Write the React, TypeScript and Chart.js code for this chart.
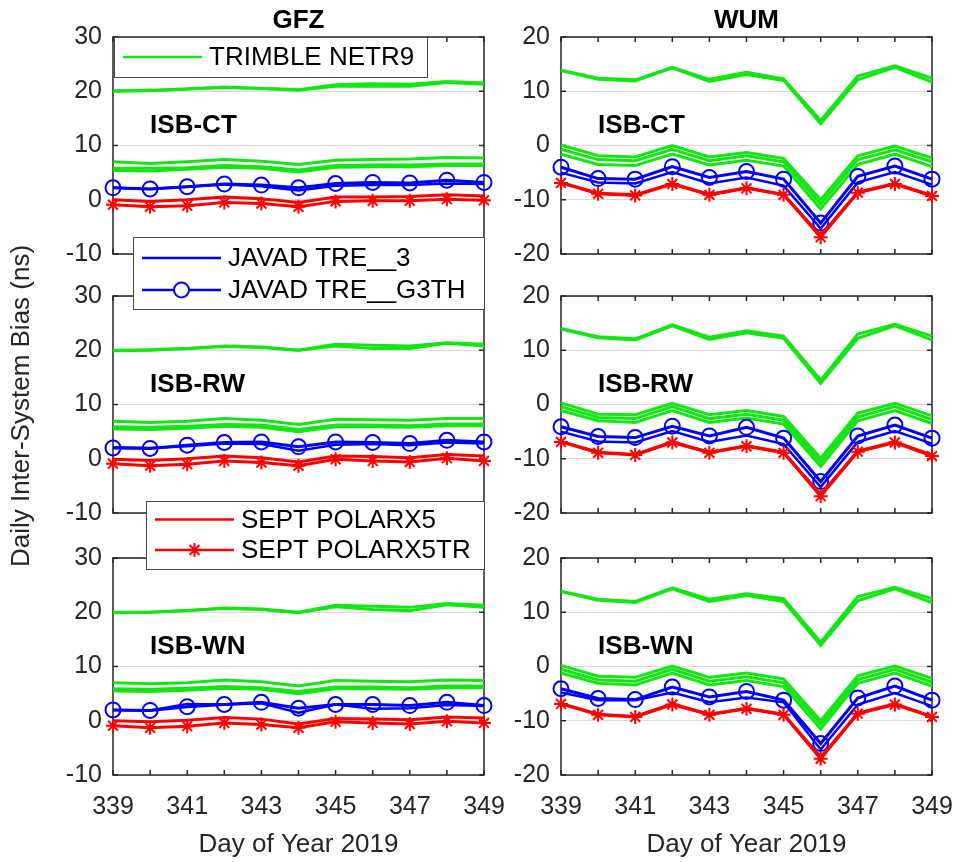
import React, { useEffect, useRef } from 'react';
import { Chart, registerables } from 'chart.js';
Chart.register(...registerables);

// ---------------- DATA ----------------
const days = [339, 340, 341, 342, 343, 344, 345, 346, 347, 348, 349];
const xTickLabels = ['339', '341', '343', '345', '347', '349'];
const gfzYTicks = [-10, 0, 10, 20, 30];
const wumYTicks = [-20, -10, 0, 10, 20];

// GFZ ISB-CT
const gfzCtTrimble = [
  [20.1, 20.2, 20.4, 20.8, 20.5, 20.3, 21.2, 21.4, 21.3, 21.8, 21.5],
  [20.0, 20.1, 20.4, 20.7, 20.5, 20.2, 20.9, 20.9, 20.9, 21.6, 21.3],
  [7.0, 6.7, 7.0, 7.4, 7.1, 6.5, 7.3, 7.4, 7.5, 7.8, 7.7],
  [5.8, 5.8, 5.9, 6.3, 6.1, 5.5, 6.3, 6.4, 6.4, 6.6, 6.6],
  [5.4, 5.3, 5.6, 6.0, 5.8, 5.1, 6.0, 6.1, 6.1, 6.3, 6.3],
];
const gfzCtJavad3 = [2.2, 2.0, 2.4, 2.8, 2.5, 1.7, 2.6, 2.7, 2.7, 3.0, 2.9];
const gfzCtJavadG3th = [2.2, 2.0, 2.4, 2.9, 2.7, 2.2, 3.0, 3.2, 3.1, 3.6, 3.2];
const gfzCtSept5 = [0.0, -0.3, 0.0, 0.5, 0.2, -0.5, 0.5, 0.5, 0.6, 0.9, 0.7];
const gfzCtSept5tr = [-0.9, -1.3, -1.1, -0.5, -0.7, -1.3, -0.3, -0.2, -0.2, 0.1, -0.1];

// GFZ ISB-RW
const gfzRwTrimble = [
  [20.0, 20.1, 20.3, 20.8, 20.6, 20.0, 21.1, 20.9, 20.8, 21.4, 21.1],
  [19.9, 20.0, 20.3, 20.7, 20.5, 20.0, 20.8, 20.3, 20.3, 21.3, 20.8],
  [6.9, 6.7, 6.9, 7.4, 7.1, 6.3, 7.3, 7.2, 7.1, 7.4, 7.4],
  [5.9, 5.8, 6.0, 6.3, 6.2, 5.4, 6.2, 6.2, 6.1, 6.4, 6.4],
  [5.5, 5.4, 5.6, 6.0, 5.8, 5.0, 5.9, 5.9, 5.8, 6.1, 6.1],
];
const gfzRwJavad3 = [2.1, 2.0, 2.3, 2.8, 2.7, 1.5, 2.6, 2.7, 2.5, 3.0, 2.8];
const gfzRwJavadG3th = [2.0, 1.9, 2.5, 3.0, 3.1, 2.2, 3.1, 3.0, 2.8, 3.4, 3.1];
const gfzRwSept5 = [-0.1, -0.3, 0.0, 0.5, 0.2, -0.6, 0.5, 0.4, 0.2, 0.8, 0.5];
const gfzRwSept5tr = [-0.9, -1.3, -1.0, -0.4, -0.7, -1.3, -0.1, -0.4, -0.6, 0.1, -0.4];

// GFZ ISB-WN
const gfzWnTrimble = [
  [20.0, 20.0, 20.3, 20.8, 20.6, 20.0, 21.3, 21.1, 20.9, 21.6, 21.3],
  [19.9, 20.0, 20.3, 20.7, 20.5, 19.9, 21.0, 20.5, 20.3, 21.4, 20.9],
  [7.0, 6.8, 7.0, 7.5, 7.2, 6.4, 7.4, 7.3, 7.2, 7.5, 7.4],
  [5.9, 5.8, 6.0, 6.3, 6.1, 5.4, 6.2, 6.2, 6.1, 6.4, 6.4],
  [5.5, 5.4, 5.6, 6.0, 5.8, 5.0, 5.9, 5.9, 5.8, 6.1, 6.1],
];
const gfzWnJavad3 = [2.0, 1.9, 3.1, 3.0, 3.2, 1.5, 3.0, 2.2, 2.3, 2.9, 2.7];
const gfzWnJavadG3th = [2.0, 1.9, 2.6, 3.0, 3.4, 2.3, 3.0, 3.0, 2.8, 3.4, 2.8];
const gfzWnSept5 = [0.0, -0.2, 0.1, 0.6, 0.3, -0.6, 0.4, 0.3, 0.2, 0.7, 0.5];
const gfzWnSept5tr = [-0.9, -1.3, -1.0, -0.4, -0.7, -1.3, -0.2, -0.4, -0.6, -0.1, -0.4];

// WUM ISB-CT
const wumCtTrimble = [
  [13.9, 12.4, 12.1, 14.4, 12.2, 13.5, 12.3, 4.6, 12.8, 14.7, 12.4],
  [13.8, 12.2, 11.9, 14.3, 11.8, 13.1, 12.0, 4.0, 12.1, 14.4, 11.7],
  [0.1, -1.9, -2.1, 0.0, -2.1, -1.3, -2.4, -10.0, -1.9, -0.1, -2.3],
  [-0.7, -2.6, -2.8, -0.7, -2.8, -1.9, -3.0, -10.8, -2.6, -0.8, -3.0],
  [-1.6, -3.5, -3.7, -1.6, -3.6, -2.7, -3.8, -11.7, -3.5, -1.6, -3.9],
];
const wumCtJavad3 = [-5.0, -6.8, -7.0, -4.9, -7.0, -5.9, -7.4, -15.3, -6.8, -4.9, -7.2];
const wumCtJavadG3th = [-4.0, -6.1, -6.2, -3.9, -5.9, -4.8, -6.2, -14.3, -5.7, -3.8, -6.2];
const wumCtSept5 = [-6.8, -8.8, -9.1, -7.0, -9.0, -7.8, -9.0, -16.6, -8.6, -7.0, -9.2];
const wumCtSept5tr = [-6.9, -8.9, -9.2, -7.1, -9.1, -7.9, -9.1, -16.9, -8.7, -7.1, -9.3];

// WUM ISB-RW
const wumRwTrimble = [
  [14.0, 12.5, 12.1, 14.7, 12.4, 13.6, 12.6, 4.5, 13.0, 14.8, 12.6],
  [13.9, 12.3, 11.9, 14.5, 12.0, 13.2, 12.2, 3.9, 12.2, 14.5, 11.9],
  [0.3, -1.8, -1.9, 0.2, -1.9, -1.1, -2.2, -9.9, -1.6, 0.2, -2.1],
  [-0.4, -2.4, -2.6, -0.4, -2.6, -1.8, -2.9, -10.6, -2.3, -0.4, -2.8],
  [-1.1, -3.0, -3.3, -1.1, -3.3, -2.5, -3.6, -11.4, -3.0, -1.1, -3.5],
];
const wumRwJavad3 = [-5.0, -6.8, -7.0, -4.9, -6.9, -5.7, -7.3, -15.2, -6.9, -4.9, -7.2];
const wumRwJavadG3th = [-4.1, -5.9, -6.1, -4.0, -5.8, -4.2, -6.2, -14.2, -5.8, -3.8, -6.2];
const wumRwSept5 = [-6.8, -8.8, -9.2, -6.9, -8.8, -7.6, -8.8, -16.6, -8.6, -6.9, -9.3];
const wumRwSept5tr = [-6.9, -8.9, -9.3, -7.0, -8.9, -7.7, -8.9, -16.9, -8.7, -7.0, -9.5];

// WUM ISB-WN
const wumWnTrimble = [
  [13.9, 12.4, 12.0, 14.5, 12.4, 13.4, 12.5, 4.5, 12.9, 14.6, 12.5],
  [13.8, 12.2, 11.8, 14.3, 12.0, 13.1, 12.0, 3.9, 12.1, 14.3, 11.8],
  [0.2, -1.8, -2.0, 0.1, -2.0, -1.2, -2.3, -10.0, -1.7, 0.1, -2.2],
  [-0.5, -2.5, -2.7, -0.5, -2.7, -1.9, -3.0, -10.7, -2.4, -0.5, -2.9],
  [-1.2, -3.1, -3.4, -1.2, -3.4, -2.6, -3.7, -11.5, -3.1, -1.2, -3.6],
];
const wumWnJavad3 = [-4.8, -6.2, -6.2, -4.8, -6.6, -5.7, -6.6, -15.3, -7.0, -4.9, -7.3];
const wumWnJavadG3th = [-4.1, -5.9, -6.1, -3.8, -5.6, -4.6, -6.2, -14.2, -5.8, -3.6, -6.2];
const wumWnSept5 = [-6.8, -8.8, -9.2, -6.9, -8.8, -7.7, -8.8, -16.7, -8.6, -6.9, -9.2];
const wumWnSept5tr = [-6.9, -8.9, -9.3, -7.0, -8.9, -7.8, -8.9, -17.0, -8.7, -7.0, -9.3];

const legendTrimble = ['TRIMBLE NETR9'];
const legendJavad = ['JAVAD TRE__3', 'JAVAD TRE__G3TH'];
const legendSept = ['SEPT POLARX5', 'SEPT POLARX5TR'];

// ---------------- STYLE ----------------
const FONT = "'Liberation Sans', Arial, Helvetica, sans-serif";
const AXIS = '#262626';
const GREEN = '#14e614';
const BLUE = '#0000ff';
const RED = '#ff0000';
const W = 954;
const H = 862;

type Entry = { label: string; color: string; marker: 'none' | 'circle' | 'star' };
type Legend = { x: number; y: number; w: number; h: number; rows: number[]; entries: Entry[] };
type Panel = {
  trimble: number[][];
  javad3: number[];
  javadG3th: number[];
  sept5: number[];
  sept5tr: number[];
  yTicks: number[];
  label: string;
  labelY: number;
  area: { left: number; top: number; right: number; bottom: number };
  showX: boolean;
  title?: string;
  legend?: Legend;
  yTitle?: boolean;
};

const leftCol = { left: 113, right: 484 };
const rightCol = { left: 561, right: 932 };
const rows = [
  { top: 37, bottom: 254 },
  { top: 296, bottom: 513 },
  { top: 558, bottom: 775 },
];

const panels: Panel[] = [
  {
    trimble: gfzCtTrimble, javad3: gfzCtJavad3, javadG3th: gfzCtJavadG3th, sept5: gfzCtSept5, sept5tr: gfzCtSept5tr,
    yTicks: gfzYTicks, label: 'ISB-CT', labelY: 12.3, area: { ...leftCol, ...rows[0] }, showX: false, title: 'GFZ',
    legend: { x: 114, y: 37, w: 313, h: 40, rows: [20], entries: [{ label: legendTrimble[0], color: GREEN, marker: 'none' }] },
  },
  {
    trimble: gfzRwTrimble, javad3: gfzRwJavad3, javadG3th: gfzRwJavadG3th, sept5: gfzRwSept5, sept5tr: gfzRwSept5tr,
    yTicks: gfzYTicks, label: 'ISB-RW', labelY: 12.3, area: { ...leftCol, ...rows[1] }, showX: false, yTitle: true,
    legend: {
      x: 133, y: 237, w: 351, h: 72, rows: [21, 53],
      entries: [
        { label: legendJavad[0], color: BLUE, marker: 'none' },
        { label: legendJavad[1], color: BLUE, marker: 'circle' },
      ],
    },
  },
  {
    trimble: gfzWnTrimble, javad3: gfzWnJavad3, javadG3th: gfzWnJavadG3th, sept5: gfzWnSept5, sept5tr: gfzWnSept5tr,
    yTicks: gfzYTicks, label: 'ISB-WN', labelY: 12.3, area: { ...leftCol, ...rows[2] }, showX: true,
    legend: {
      x: 146, y: 501, w: 338, h: 68, rows: [18.5, 49],
      entries: [
        { label: legendSept[0], color: RED, marker: 'none' },
        { label: legendSept[1], color: RED, marker: 'star' },
      ],
    },
  },
  {
    trimble: wumCtTrimble, javad3: wumCtJavad3, javadG3th: wumCtJavadG3th, sept5: wumCtSept5, sept5tr: wumCtSept5tr,
    yTicks: wumYTicks, label: 'ISB-CT', labelY: 2.3, area: { ...rightCol, ...rows[0] }, showX: false, title: 'WUM',
  },
  {
    trimble: wumRwTrimble, javad3: wumRwJavad3, javadG3th: wumRwJavadG3th, sept5: wumRwSept5, sept5tr: wumRwSept5tr,
    yTicks: wumYTicks, label: 'ISB-RW', labelY: 2.3, area: { ...rightCol, ...rows[1] }, showX: false,
  },
  {
    trimble: wumWnTrimble, javad3: wumWnJavad3, javadG3th: wumWnJavadG3th, sept5: wumWnSept5, sept5tr: wumWnSept5tr,
    yTicks: wumYTicks, label: 'ISB-WN', labelY: 2.3, area: { ...rightCol, ...rows[2] }, showX: true,
  },
];

const pts = (arr: number[]) => days.map((d, i) => ({ x: d, y: arr[i] }));

function drawStar(ctx: CanvasRenderingContext2D, x: number, y: number, r: number) {
  ctx.beginPath();
  for (let k = 0; k < 4; k++) {
    const a = (k * Math.PI) / 4;
    ctx.moveTo(x - r * Math.cos(a), y - r * Math.sin(a));
    ctx.lineTo(x + r * Math.cos(a), y + r * Math.sin(a));
  }
  ctx.stroke();
}

function makePlugin(p: Panel) {
  return {
    id: 'panelDecor',
    beforeDatasetsDraw(chart: any) {
      const { ctx, chartArea: a, scales } = chart;
      ctx.save();
      ctx.strokeStyle = AXIS;
      ctx.lineWidth = 1.5;
      ctx.strokeRect(a.left, a.top, a.right - a.left, a.bottom - a.top);
      ctx.beginPath();
      for (const d of days) {
        const px = scales.x.getPixelForValue(d);
        ctx.moveTo(px, a.bottom);
        ctx.lineTo(px, a.bottom - 5);
        ctx.moveTo(px, a.top);
        ctx.lineTo(px, a.top + 5);
      }
      for (const t of p.yTicks) {
        const py = scales.y.getPixelForValue(t);
        ctx.moveTo(a.left, py);
        ctx.lineTo(a.left + 5, py);
        ctx.moveTo(a.right, py);
        ctx.lineTo(a.right - 5, py);
      }
      ctx.stroke();
      ctx.restore();
    },
    afterDraw(chart: any) {
      const { ctx, chartArea: a, scales } = chart;
      ctx.save();
      // panel label
      ctx.fillStyle = '#000';
      ctx.font = `bold 26px ${FONT}`;
      ctx.textAlign = 'left';
      ctx.textBaseline = 'alphabetic';
      ctx.fillText(p.label, scales.x.getPixelForValue(340), scales.y.getPixelForValue(p.labelY));
      // column title
      if (p.title) {
        ctx.textAlign = 'center';
        ctx.fillText(p.title, (a.left + a.right) / 2, a.top - 9);
      }
      // x axis title
      ctx.font = `26px ${FONT}`;
      ctx.fillStyle = AXIS;
      if (p.showX) {
        ctx.textAlign = 'center';
        ctx.textBaseline = 'middle';
        ctx.fillText('Day of Year 2019', (a.left + a.right) / 2, 845);
      }
      if (p.yTitle) {
        ctx.save();
        ctx.translate(22, 406);
        ctx.rotate(-Math.PI / 2);
        ctx.textAlign = 'center';
        ctx.textBaseline = 'middle';
        ctx.fillText('Daily Inter-System Bias (ns)', 0, 0);
        ctx.restore();
      }
      // legend
      const L = p.legend;
      if (L) {
        ctx.fillStyle = '#fff';
        ctx.fillRect(L.x, L.y, L.w, L.h);
        ctx.strokeStyle = '#4a4a4a';
        ctx.lineWidth = 1;
        ctx.strokeRect(L.x + 0.5, L.y + 0.5, L.w, L.h);
        L.entries.forEach((e, i) => {
          const yy = L.y + L.rows[i];
          ctx.strokeStyle = e.color;
          ctx.lineWidth = 2.5;
          ctx.beginPath();
          ctx.moveTo(L.x + 9, yy);
          ctx.lineTo(L.x + 88, yy);
          ctx.stroke();
          const mx = L.x + 48.5;
          ctx.lineWidth = 2;
          if (e.marker === 'circle') {
            ctx.fillStyle = '#fff';
            ctx.beginPath();
            ctx.arc(mx, yy, 7.5, 0, Math.PI * 2);
            ctx.fill();
            ctx.stroke();
          } else if (e.marker === 'star') {
            drawStar(ctx, mx, yy, 7);
          }
          ctx.fillStyle = '#000';
          ctx.font = `26px ${FONT}`;
          ctx.textAlign = 'left';
          ctx.textBaseline = 'middle';
          ctx.fillText(e.label, L.x + 95, yy + 1);
        });
      }
      ctx.restore();
    },
  };
}

function buildConfig(p: Panel): any {
  const datasets: any[] = [
    {
      data: pts(p.sept5tr), borderColor: RED, borderWidth: 3, pointStyle: 'star', pointRadius: 7,
      pointBorderWidth: 2, pointBorderColor: RED, pointBackgroundColor: RED,
    },
    { data: pts(p.sept5), borderColor: RED, borderWidth: 3, pointRadius: 0 },
    {
      data: pts(p.javadG3th), borderColor: BLUE, borderWidth: 3, pointStyle: 'circle', pointRadius: 7.5,
      pointBorderWidth: 2, pointBorderColor: BLUE, pointBackgroundColor: 'rgba(0,0,0,0)',
    },
    { data: pts(p.javad3), borderColor: BLUE, borderWidth: 2.5, pointRadius: 0 },
    ...p.trimble.map((t) => ({ data: pts(t), borderColor: GREEN, borderWidth: 3, pointRadius: 0 })),
  ].map((d) => ({ ...d, tension: 0, fill: false, clip: false, pointHoverRadius: d.pointRadius }));

  const yMin = p.yTicks[0];
  const yMax = p.yTicks[p.yTicks.length - 1];
  const xAxisH = 50;
  return {
    type: 'line',
    data: { datasets },
    options: {
      animation: false,
      responsive: false,
      events: [],
      layout: {
        padding: {
          left: p.area.left - 60,
          right: W - p.area.right,
          top: p.area.top,
          bottom: H - p.area.bottom - xAxisH,
        },
      },
      plugins: { legend: { display: false }, tooltip: { enabled: false }, title: { display: false } },
      scales: {
        x: {
          type: 'linear',
          min: days[0],
          max: days[days.length - 1],
          grid: { display: false },
          border: { display: false },
          afterFit: (s: any) => {
            s.height = xAxisH;
            s.paddingLeft = 0;
            s.paddingRight = 0;
          },
          afterBuildTicks: (s: any) => { s.ticks = days.map((d) => ({ value: d })); },
          ticks: {
            display: p.showX,
            autoSkip: false,
            maxRotation: 0,
            minRotation: 0,
            padding: 9,
            color: AXIS,
            font: { size: 25, family: FONT },
            callback: (v: any) => (xTickLabels.includes(String(v)) ? String(v) : ''),
          },
        },
        y: {
          type: 'linear',
          min: yMin,
          max: yMax,
          afterFit: (s: any) => {
            s.width = 60;
            s.paddingTop = 0;
            s.paddingBottom = 0;
          },
          afterBuildTicks: (s: any) => { s.ticks = p.yTicks.map((v) => ({ value: v })); },
          grid: { color: '#dadada', lineWidth: 1, drawTicks: false },
          border: { display: false },
          ticks: {
            padding: 11,
            color: AXIS,
            font: { size: 25, family: FONT },
            callback: (v: any) => String(v),
          },
        },
      },
    },
    plugins: [makePlugin(p)],
  };
}

function PanelCanvas({ p }: { p: Panel }) {
  const ref = useRef<HTMLCanvasElement | null>(null);
  useEffect(() => {
    if (!ref.current) return;
    const chart = new Chart(ref.current, buildConfig(p));
    return () => chart.destroy();
  }, [p]);
  return (
    <canvas
      ref={ref}
      width={W}
      height={H}
      style={{ position: 'absolute', left: 0, top: 0, width: W, height: H, pointerEvents: 'none' }}
    />
  );
}

export default function App() {
  return (
    <div style={{ position: 'absolute', left: 0, top: 0, width: W, height: H, background: '#fff', overflow: 'hidden' }}>
      {panels.map((p, i) => (
        <PanelCanvas key={i} p={p} />
      ))}
    </div>
  );
}
